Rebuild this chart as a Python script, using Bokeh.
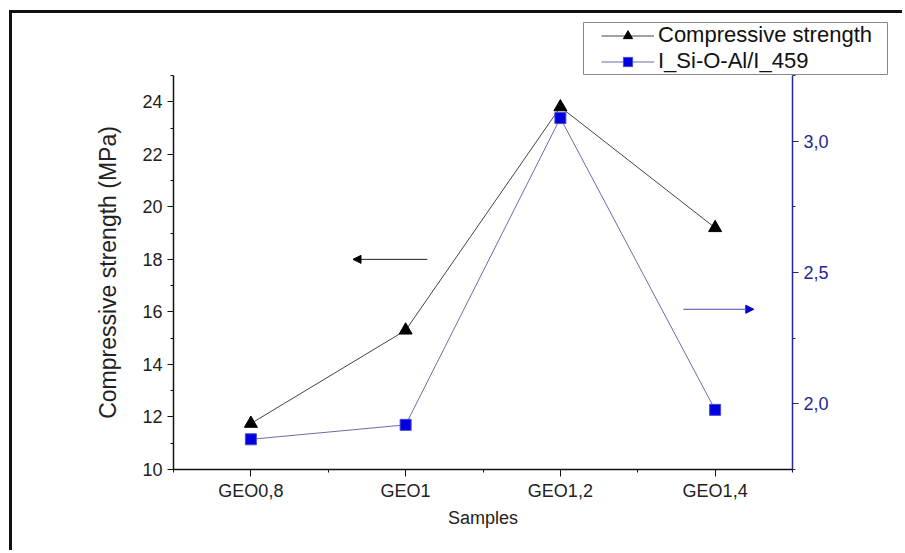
from bokeh.plotting import figure
from bokeh.layouts import row
from bokeh.models import (Range1d, LinearAxis, FixedTicker, Legend, LegendItem,
                          Arrow, NormalHead, CustomJSTickFormatter)
from bokeh.embed import file_html
from bokeh.resources import INLINE

samples = ["GEO0,8", "GEO1", "GEO1,2", "GEO1,4"]
compressive = [11.75, 15.3, 23.8, 19.2]
ratio = [1.865, 1.92, 3.088, 1.977]

left_arrow_y = 18.0
right_arrow_y = 2.36

FONT = "Liberation Sans"
BLUE_AX = "#23288f"

xs = list(range(len(samples)))

# main plot; canvas starts at (12, 13) in the window because of the frame border
p = figure(width=893, height=540, output_backend="svg", toolbar_location=None,
           x_range=Range1d(-0.5, 3.5), y_range=Range1d(10, 25),
           min_border_left=161, min_border_right=113, min_border_top=62, min_border_bottom=84)
p.styles = {"margin-left": "9px", "margin-top": "10px",
            "border-top": "3px solid #111111", "border-left": "3px solid #111111"}
p.extra_y_ranges = {"r": Range1d(1.75, 3.25)}
p.outline_line_color = None
p.xgrid.visible = False
p.ygrid.visible = False
p.background_fill_color = "white"
p.border_fill_color = "white"

# x axis
xa = p.xaxis[0]
xa.ticker = FixedTicker(ticks=xs, minor_ticks=[-0.5, 0.5, 1.5, 2.5, 3.5])
xa.major_label_overrides = {i: s for i, s in enumerate(samples)}
xa.axis_label = "Samples"
xa.axis_label_text_font = FONT
xa.axis_label_text_font_style = "normal"
xa.axis_label_text_font_size = "18px"
xa.axis_label_text_color = "#222222"
xa.axis_label_standoff = 4
xa.major_label_text_font = FONT
xa.major_label_text_font_size = "18px"
xa.major_label_text_color = "#222222"
xa.major_label_standoff = 4
xa.major_tick_out = 7
xa.major_tick_in = 0
xa.minor_tick_out = 3
xa.minor_tick_in = 0
xa.axis_line_color = "#111111"
xa.major_tick_line_color = "#111111"
xa.minor_tick_line_color = "#111111"
xa.axis_line_width = 1.5

# left axis
ya = p.yaxis[0]
ya.ticker = FixedTicker(ticks=[10, 12, 14, 16, 18, 20, 22, 24],
                        minor_ticks=[11, 13, 15, 17, 19, 21, 23, 25])
ya.axis_label = "Compressive strength (MPa)"
ya.axis_label_text_font = FONT
ya.axis_label_text_font_style = "normal"
ya.axis_label_text_font_size = "23px"
ya.axis_label_text_color = "#222222"
ya.axis_label_standoff = 18
ya.major_label_text_font = FONT
ya.major_label_text_font_size = "18px"
ya.major_label_text_color = "#222222"
ya.major_label_standoff = 5
ya.major_tick_out = 6
ya.major_tick_in = 0
ya.minor_tick_out = 3
ya.minor_tick_in = 0
ya.axis_line_color = "#111111"
ya.major_tick_line_color = "#111111"
ya.minor_tick_line_color = "#111111"
ya.axis_line_width = 1.5

# right axis
ra = LinearAxis(y_range_name="r",
                ticker=FixedTicker(ticks=[2.0, 2.5, 3.0], minor_ticks=[1.75, 2.25, 2.75, 3.25]),
                formatter=CustomJSTickFormatter(code="return tick.toFixed(1).replace('.', ',');"))
ra.major_label_text_font = FONT
ra.major_label_text_font_size = "18px"
ra.major_label_text_color = BLUE_AX
ra.major_label_standoff = 5
ra.major_tick_out = 6
ra.major_tick_in = 0
ra.minor_tick_out = 3
ra.minor_tick_in = 0
ra.axis_line_color = BLUE_AX
ra.major_tick_line_color = BLUE_AX
ra.minor_tick_line_color = BLUE_AX
ra.axis_line_width = 1.5
p.add_layout(ra, "right")

# series
LINE1 = dict(line_color="#444444", line_width=1)
MARK1 = dict(marker="triangle", size=13, fill_color="black", line_color="black")
LINE2 = dict(line_color="#6b6baa", line_width=1)
MARK2 = dict(marker="square", size=11, fill_color="#0000dd", line_color="#4a4ad0", line_width=1)

p.line(xs, compressive, **LINE1)
p.scatter(xs, compressive, **MARK1)
p.line(xs, ratio, y_range_name="r", **LINE2)
p.scatter(xs, ratio, y_range_name="r", **MARK2)

# arrows pointing at the axis each series belongs to
p.add_layout(Arrow(x_start=1.14, y_start=left_arrow_y, x_end=0.66, y_end=left_arrow_y,
                   line_color="#222222", line_width=1,
                   end=NormalHead(size=8, fill_color="black", line_color="black")))
p.add_layout(Arrow(x_start=2.795, y_start=right_arrow_y, x_end=3.25, y_end=right_arrow_y,
                   y_range_name="r", line_color="#4a4ab0", line_width=1,
                   end=NormalHead(size=8, fill_color="#0000cc", line_color="#0000cc")))

# legend box: a small overlay figure, absolutely positioned over the main plot
# (the legend reaches past the plot frame); its frame is 52 px tall.
lg = figure(width=306, height=198, output_backend="svg", toolbar_location=None,
            x_range=Range1d(100, 101), y_range=Range1d(100, 101),
            min_border_left=1, min_border_right=1, min_border_top=62, min_border_bottom=84)
lg.styles = {"position": "absolute", "left": "582px", "top": "-40px"}
lg.axis.visible = False
lg.grid.visible = False
lg.outline_line_color = "#888888"
lg.outline_line_width = 1
lg.background_fill_color = "white"
lg.border_fill_alpha = 0
r1 = [lg.line(xs, compressive, **LINE1), lg.scatter(xs, compressive, **MARK1)]
r2 = [lg.line(xs, ratio, **LINE2), lg.scatter(xs, ratio, **MARK2)]
legend = Legend(items=[LegendItem(label="Compressive strength", renderers=r1),
                       LegendItem(label="I_Si-O-Al/I_459", renderers=r2)],
                location=(18, 0), orientation="vertical",
                label_text_font=FONT, label_text_font_size="22px", label_text_color="#111111",
                glyph_width=53, glyph_height=23, label_height=23, spacing=0, padding=0, margin=0,
                label_standoff=4, border_line_color=None, background_fill_alpha=0)
lg.add_layout(legend, "center")

layout = row(p, lg, spacing=0)
open("out.html", "w").write(file_html(layout, INLINE))
